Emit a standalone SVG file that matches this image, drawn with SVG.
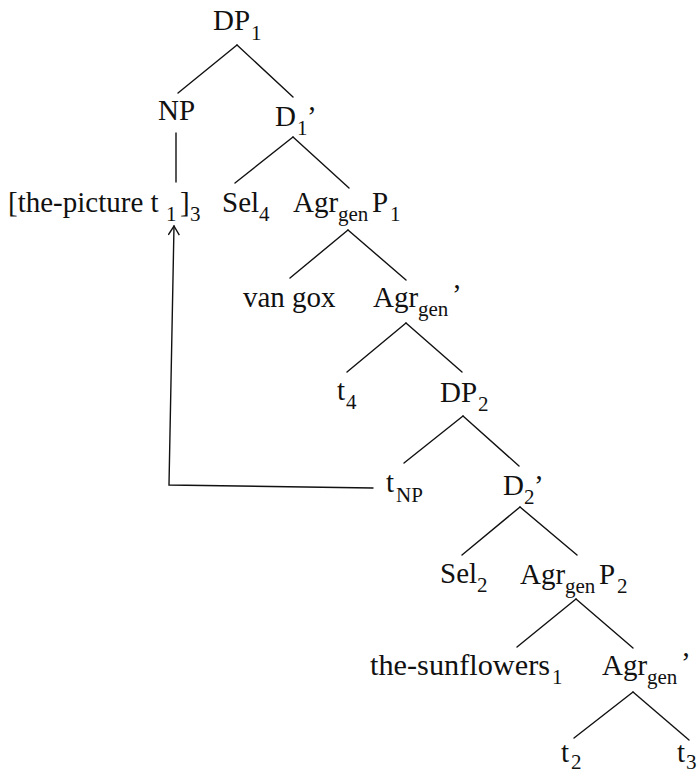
<svg xmlns="http://www.w3.org/2000/svg" width="699" height="776" viewBox="0 0 699 776">
<style>
text{font-family:"Liberation Serif","Times New Roman",serif;font-size:29px;fill:#111}
.s{font-size:21px}
.e{stroke:#111;stroke-width:1.4;fill:none;stroke-linecap:round}
</style>
<defs>
<marker id="ah" markerWidth="14" markerHeight="12" refX="11" refY="6" orient="auto" markerUnits="userSpaceOnUse">
<path d="M2,0.5 L11,6 L2,11.5" fill="none" stroke="#111" stroke-width="1.4"/>
</marker>
</defs>
<rect width="699" height="776" fill="#fff"/>
<g id="connectors" class="e">
<line x1="237" y1="45" x2="178" y2="93"/>
<line x1="237" y1="45" x2="293" y2="97"/>
<line x1="176" y1="133" x2="176" y2="182"/>
<line x1="293" y1="137" x2="235" y2="183"/>
<line x1="293" y1="137" x2="349" y2="188"/>
<line x1="348" y1="230" x2="290" y2="278"/>
<line x1="348" y1="230" x2="406" y2="280"/>
<line x1="406" y1="323" x2="347" y2="372"/>
<line x1="406" y1="323" x2="462" y2="372"/>
<line x1="463" y1="416" x2="404" y2="463"/>
<line x1="463" y1="416" x2="519" y2="466"/>
<line x1="520" y1="507" x2="462" y2="555"/>
<line x1="520" y1="507" x2="577" y2="555"/>
<line x1="576" y1="599" x2="517" y2="647"/>
<line x1="576" y1="599" x2="633" y2="648"/>
<line x1="633" y1="692" x2="574" y2="738"/>
<line x1="633" y1="692" x2="689" y2="740"/>
<path id="movement" d="M373,488 L169,485 L174,226" marker-end="url(#ah)"/>
</g>
<g id="DP1"><text><tspan x="213" y="30">DP</tspan><tspan class="s" x="251" y="40">1</tspan></text></g>
<g id="NP"><text x="158" y="120">NP</text></g>
<g id="D1bar"><text><tspan x="275" y="126">D</tspan><tspan class="s" x="297" y="135">1</tspan><tspan x="307" y="126">’</tspan></text></g>
<g id="the-picture"><text><tspan x="8" y="212">[the-picture t</tspan><tspan class="s" x="166" y="221">1</tspan><tspan x="180" y="212">]</tspan><tspan class="s" x="190" y="221">3</tspan></text></g>
<g id="Sel4"><text><tspan x="222" y="212">Sel</tspan><tspan class="s" x="259" y="221">4</tspan></text></g>
<g id="AgrP1"><text><tspan x="293" y="212">Agr</tspan><tspan class="s" x="338" y="221">gen</tspan><tspan x="372" y="212">P</tspan><tspan class="s" x="390" y="221">1</tspan></text></g>
<g id="van-gox"><text x="243" y="307">van gox</text></g>
<g id="Agrbar1"><text><tspan x="373" y="307">Agr</tspan><tspan class="s" x="418" y="316">gen</tspan><tspan x="452" y="304">’</tspan></text></g>
<g id="t4"><text><tspan x="337" y="400">t</tspan><tspan class="s" x="346" y="409">4</tspan></text></g>
<g id="DP2"><text><tspan x="440" y="402">DP</tspan><tspan class="s" x="478" y="411">2</tspan></text></g>
<g id="tNP"><text><tspan x="386" y="492">t</tspan><tspan class="s" x="396" y="502">NP</tspan></text></g>
<g id="D2bar"><text><tspan x="503" y="495">D</tspan><tspan class="s" x="524" y="504">2</tspan><tspan x="534" y="495">’</tspan></text></g>
<g id="Sel2"><text><tspan x="440" y="583">Sel</tspan><tspan class="s" x="477" y="592">2</tspan></text></g>
<g id="AgrP2"><text><tspan x="520" y="584">Agr</tspan><tspan class="s" x="565" y="593">gen</tspan><tspan x="599" y="584">P</tspan><tspan class="s" x="617" y="593">2</tspan></text></g>
<g id="the-sunflowers"><text><tspan x="370" y="675" textLength="180" lengthAdjust="spacingAndGlyphs">the-sunflowers</tspan><tspan class="s" x="552" y="684">1</tspan></text></g>
<g id="Agrbar2"><text><tspan x="602" y="675">Agr</tspan><tspan class="s" x="647" y="684">gen</tspan><tspan x="681" y="672">’</tspan></text></g>
<g id="t2"><text><tspan x="561" y="762">t</tspan><tspan class="s" x="571" y="769">2</tspan></text></g>
<g id="t3"><text><tspan x="677" y="762">t</tspan><tspan class="s" x="686" y="769">3</tspan></text></g>
</svg>
